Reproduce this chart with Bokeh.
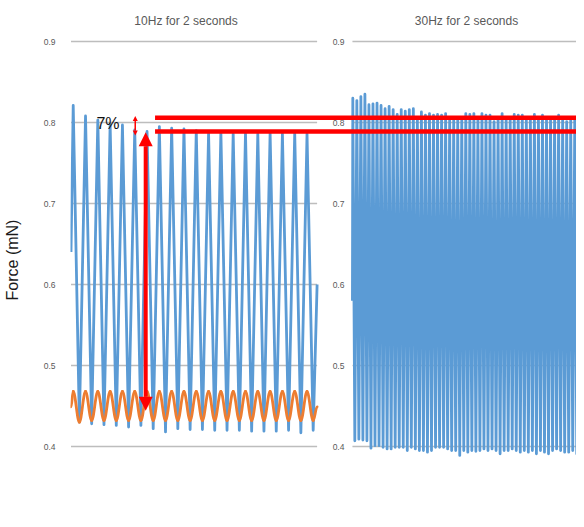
import numpy as np
from bokeh.plotting import figure
from bokeh.models import Range1d, FixedTicker, Arrow, NormalHead
from bokeh.core.properties import value
from bokeh.embed import file_html
from bokeh.resources import INLINE

# ---------------- data ----------------
y_ticks = [0.3, 0.4, 0.5, 0.6, 0.7, 0.8, 0.9]
y_tick_labels = ["0.3", "0.4", "0.5", "0.6", "0.7", "0.8", "0.9"]
panel_titles = ["10Hz for 2 seconds", "30Hz for 2 seconds"]
y_label = "Force (mN)"
duration = 2.0

# 10 Hz panel (blue force trace): per-cycle peaks and troughs
left_freq = 10
left_phase = 0.018
left_peaks = [0.821, 0.808, 0.803, 0.798, 0.797, 0.791, 0.789, 0.795, 0.793, 0.792,
              0.790, 0.787, 0.788, 0.786, 0.787, 0.786, 0.787, 0.786, 0.787, 0.786]
left_troughs = [0.430, 0.428, 0.427, 0.426, 0.424, 0.426, 0.422, 0.418, 0.422, 0.421,
                0.421, 0.420, 0.420, 0.420, 0.419, 0.419, 0.419, 0.420, 0.417, 0.420]
left_start, left_end = 0.64, 0.60

# 10 Hz panel (orange stimulus trace)
orange_peaks = [0.468] * 20
orange_troughs = [0.430] + [0.432] * 19
orange_start, orange_end = 0.449, 0.449

# 30 Hz panel (blue force trace)
right_freq = 30
right_phase = 0.003
right_peaks = [0.830, 0.827, 0.832, 0.835, 0.822, 0.823, 0.824, 0.821, 0.817, 0.820,
               0.816, 0.810, 0.816, 0.814, 0.816, 0.817, 0.805, 0.813, 0.809, 0.811,
               0.809, 0.810, 0.809, 0.811, 0.805, 0.803, 0.804, 0.805, 0.811, 0.810,
               0.811, 0.806, 0.811, 0.809, 0.809, 0.801, 0.805, 0.811, 0.806, 0.804,
               0.810, 0.809, 0.809, 0.804, 0.806, 0.810, 0.805, 0.809, 0.805, 0.806,
               0.803, 0.809, 0.805, 0.801, 0.806, 0.804, 0.806, 0.808]
right_troughs = [0.407, 0.409, 0.408, 0.407, 0.398, 0.401, 0.401, 0.399, 0.397, 0.397,
                 0.399, 0.399, 0.399, 0.395, 0.399, 0.397, 0.395, 0.395, 0.393, 0.395,
                 0.399, 0.399, 0.399, 0.397, 0.395, 0.395, 0.389, 0.395, 0.393, 0.395,
                 0.394, 0.395, 0.397, 0.395, 0.397, 0.395, 0.391, 0.395, 0.395, 0.397,
                 0.395, 0.393, 0.395, 0.393, 0.395, 0.391, 0.395, 0.393, 0.391, 0.395,
                 0.397, 0.395, 0.393, 0.393, 0.395, 0.391, 0.391, 0.395]
right_start = 0.58

# annotation levels
level_30hz = 0.806
level_10hz = 0.789
base_level = 0.444
pct_label = "7%"


def trace(freq, phase, peaks, troughs, start=None, end=None):
    n = len(peaks)
    tp = phase + np.arange(n) / freq
    tt = tp + 0.5 / freq
    t = np.empty(2 * n)
    v = np.empty(2 * n)
    t[0::2], t[1::2] = tp, tt
    v[0::2], v[1::2] = peaks, troughs
    if start is not None:
        t = np.concatenate([[0.0], t]); v = np.concatenate([[start], v])
    if end is not None:
        t = np.concatenate([t, [duration]]); v = np.concatenate([v, [end]])
    return t, v


# ---------------- layout ----------------
W, H = 576, 519
left_border = 69
frame_w = W - left_border
px_left = 123.3          # pixels per second, 10 Hz panel
px_right = 121.3         # pixels per second, 30 Hz panel
right_gap = 282.5        # pixel offset of the 30 Hz panel from the frame edge
px_per_unit = 810.0
y_top = 0.9 + 41 / px_per_unit
y_bot = 0.4 - (H - 446) / px_per_unit

p = figure(width=W, height=H, output_backend="svg", toolbar_location=None,
           x_range=Range1d(-0.5 / px_left, (frame_w - 0.5) / px_left),
           y_range=Range1d(y_bot, y_top), x_axis_location=None,
           min_border_left=left_border, min_border_right=0,
           min_border_top=0, min_border_bottom=0)
p.extra_x_ranges = {"r": Range1d(-right_gap / px_right, (frame_w - right_gap) / px_right)}
p.outline_line_color = None
p.grid.visible = False
p.background_fill_color = "white"
p.border_fill_color = "white"

ax = p.yaxis[0]
ax.ticker = FixedTicker(ticks=y_ticks)
ax.major_label_overrides = {t: l for t, l in zip(y_ticks, y_tick_labels)}
ax.axis_line_color = None
ax.major_tick_line_color = None
ax.minor_tick_line_color = None
ax.major_label_standoff = 9
ax.major_label_text_font = "Liberation Sans"
ax.major_label_text_font_size = "8.5px"
ax.major_label_text_color = "#595959"
ax.axis_label = y_label
ax.axis_label_text_font = "Liberation Sans"
ax.axis_label_text_font_style = "normal"
ax.axis_label_text_font_size = "16px"
ax.axis_label_text_color = "#1a1a1a"
ax.axis_label_standoff = 20

grid_col = "#BDBDBD"
# gridlines of each panel
p.segment(x0=[0] * len(y_ticks), x1=[duration] * len(y_ticks), y0=y_ticks, y1=y_ticks,
          line_color=grid_col, line_width=1.6)
p.segment(x0=[0] * len(y_ticks), x1=[p.extra_x_ranges["r"].end] * len(y_ticks),
          y0=y_ticks, y1=y_ticks, line_color=grid_col, line_width=1.6, x_range_name="r")

# right panel tick labels
p.text(x=[0] * len(y_ticks), y=y_ticks, text=y_tick_labels, x_range_name="r",
       x_offset=-8, text_align="right", text_baseline="middle",
       text_font=value("Liberation Sans"), text_font_size="8.5px", text_color="#595959")

# titles
title_y = 0.9 + 20.5 / px_per_unit
p.text(x=[duration / 2], y=[title_y], text=[panel_titles[0]], x_offset=-8,
       text_align="center", text_baseline="middle", text_font=value("Liberation Sans"),
       text_font_size="12px", text_color="#595959")
p.text(x=[duration / 2], y=[title_y], text=[panel_titles[1]], x_offset=-7,
       x_range_name="r", text_align="center", text_baseline="middle",
       text_font=value("Liberation Sans"), text_font_size="12px", text_color="#595959")

blue = "#5B9BD5"
orange = "#ED7D31"

tl, vl = trace(left_freq, left_phase, left_peaks, left_troughs, left_start, left_end)
p.line(tl, vl, line_color=blue, line_width=2.8, line_join="round")

# orange trace drawn as smooth curves between its listed extremes
to, vo = trace(left_freq, left_phase, orange_peaks, orange_troughs, orange_start, orange_end)
dt = np.diff(to)
p.bezier(x0=to[:-1], y0=vo[:-1], x1=to[1:], y1=vo[1:],
         cx0=to[:-1] + 0.36 * dt, cy0=vo[:-1], cx1=to[1:] - 0.36 * dt, cy1=vo[1:],
         line_color=orange, line_width=2.8, line_cap="round")

tr, vr = trace(right_freq, right_phase, right_peaks, right_troughs, right_start, None)
p.line(tr, vr, line_color=blue, line_width=2.8, line_join="round", x_range_name="r")

# red annotations
red = "#FF0000"
x_red = 0.683
p.segment(x0=[x_red, x_red], x1=[p.x_range.end] * 2, y0=[level_30hz, level_10hz],
          y1=[level_30hz, level_10hz], line_color=red, line_width=4.5, line_cap="butt")

x_big = 0.607
p.add_layout(Arrow(start=NormalHead(size=14, fill_color=red, line_color=red, line_width=0),
                   end=NormalHead(size=14, fill_color=red, line_color=red, line_width=0),
                   x_start=x_big, y_start=base_level, x_end=x_big, y_end=level_10hz - 0.001,
                   line_color=red, line_width=4))
x_small = 0.522
p.add_layout(Arrow(start=NormalHead(size=5, fill_color=red, line_color=red, line_width=0),
                   end=NormalHead(size=5, fill_color=red, line_color=red, line_width=0),
                   x_start=x_small, y_start=level_10hz - 0.005, x_end=x_small,
                   y_end=level_30hz + 0.002, line_color=red, line_width=1.5))

p.text(x=[0.207], y=[0.7988], text=[pct_label], text_align="left", text_baseline="middle",
       text_font=value("Liberation Sans"), text_font_size="16px", text_color="#111111")

open("out.html", "w").write(file_html(p, INLINE))
